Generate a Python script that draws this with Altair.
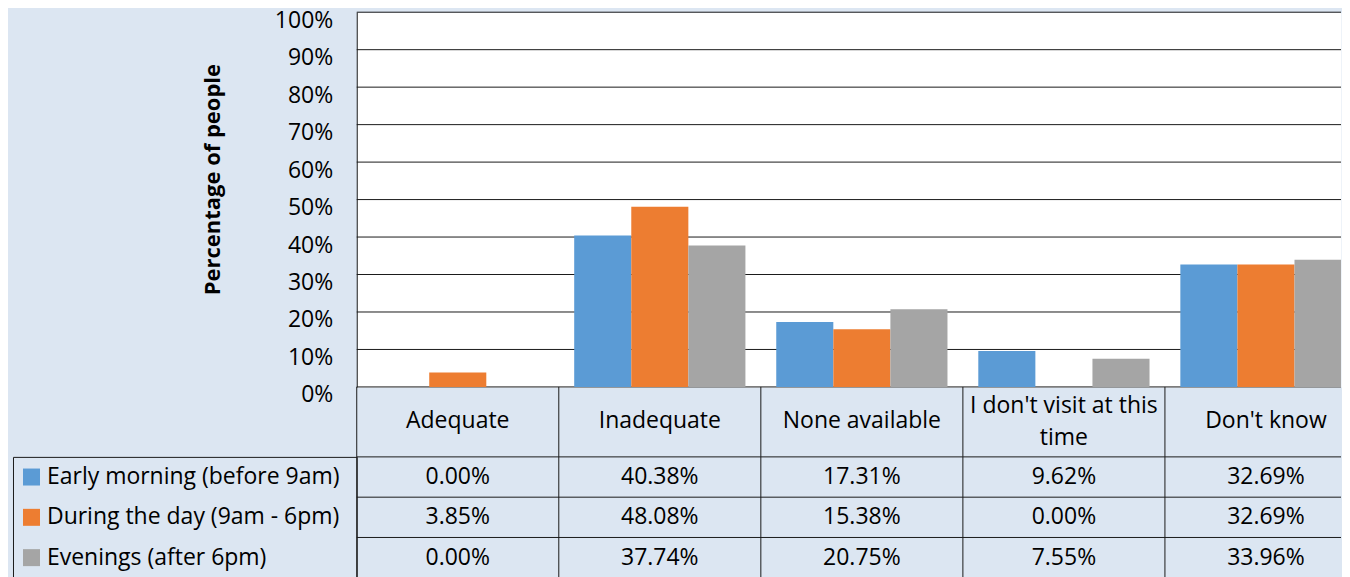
import altair as alt
import pandas as pd

categories = ["Adequate", "Inadequate", "None available", "I don't visit at this time", "Don't know"]
series_names = ["Early morning (before 9am)", "During the day (9am - 6pm)", "Evenings (after 6pm)"]
early_morning = [0.00, 40.38, 17.31, 9.62, 32.69]
during_day = [3.85, 48.08, 15.38, 0.00, 32.69]
evenings = [0.00, 37.74, 20.75, 7.55, 33.96]
series_colors = ["#5B9BD5", "#ED7D31", "#A5A5A5"]
y_ticks = [0, 10, 20, 30, 40, 50, 60, 70, 80, 90, 100]

rows = []
for s, vals in zip(series_names, [early_morning, during_day, evenings]):
    for c, v in zip(categories, vals):
        rows.append({"category": c, "series": s, "value": v})
df = pd.DataFrame(rows)
legend_df = pd.DataFrame({"series": series_names})
cat_df = pd.DataFrame({"category": categories})
tick_df = pd.DataFrame({"value": y_ticks})

FONT = "Open Sans"
LINE = "#1a1a1a"
FS = 23
BG = "#DCE6F2"
W = 985          # visible plot width (the page is cropped at the right)
FULL = 1011      # full width of the five category columns

color = alt.Color("series:N", sort=series_names,
                  scale=alt.Scale(domain=series_names, range=series_colors), legend=None)

cat_scale = alt.Scale(paddingInner=0, paddingOuter=0, range=[0, FULL])
row_scale = alt.Scale(paddingInner=0, paddingOuter=0)
val_scale = alt.Scale(domain=[0, 100], nice=False)

y_bar = alt.Y(
    "value:Q", title="Percentage of people", scale=val_scale,
    axis=alt.Axis(values=y_ticks, labelExpr="datum.value + '%'", grid=False,
                  domain=True, domainColor=LINE, ticks=False, labelPadding=24, labelFontSize=FS,
                  labelFont=FONT, labelColor="black", labelOffset=8,
                  titleFont=FONT, titleFontSize=22, titleFontWeight="bold", titleColor="black",
                  titleX=-144, titleY=167, titleAngle=270, titleAlign="center",
                  titleBaseline="middle"),
)

# ---- bar panel ----
gridlines = alt.Chart(tick_df).mark_rule(color=LINE, strokeWidth=1).encode(y=y_bar)
bars = alt.Chart(df).mark_bar(clip=True).encode(
    x=alt.X("category:N", sort=categories, title=None, scale=cat_scale, axis=None),
    xOffset=alt.XOffset("series:N", sort=series_names,
                        scale=alt.Scale(paddingInner=0, paddingOuter=0.27)),
    y=y_bar,
    color=color,
)
bar_panel = alt.layer(gridlines, bars).properties(
    width=W, height=375, view=alt.ViewBackground(fill="white", stroke="transparent"))

# ---- header row (category names) ----
wrap_expr = ("length(datum.category) > 16 ? [slice(datum.category, 0, lastindexof(datum.category, ' ')), "
             "slice(datum.category, lastindexof(datum.category, ' ') + 1)] : datum.category")
hx = alt.X("category:N", sort=categories, title=None, scale=cat_scale, axis=None)
head_base = alt.Chart(cat_df).transform_calculate(lines=wrap_expr)
head_single = head_base.transform_filter("length(datum.category) <= 16").mark_text(
    font=FONT, fontSize=FS, color="black", baseline="middle", dy=-1).encode(x=hx, text="lines:N")
head_multi = head_base.transform_filter("length(datum.category) > 16").mark_text(
    font=FONT, fontSize=FS, color="black", baseline="line-bottom", lineHeight=32).encode(
    x=hx, text="lines:N")
head_lines = alt.Chart(cat_df).mark_rule(color=LINE, strokeWidth=1).encode(
    x=alt.X("category:N", sort=categories, title=None, scale=cat_scale, axis=None,
            bandPosition=0))
header = alt.layer(head_lines, head_single, head_multi).properties(
    width=W, height=70, view=alt.ViewBackground(stroke="transparent"))

# ---- data table ----
values = alt.Chart(df).transform_calculate(
    label="format(datum.value, '.2f') + '%'"
).mark_text(font=FONT, fontSize=FS, color="black", baseline="middle").encode(
    x=alt.X("category:N", sort=categories, title=None, scale=cat_scale, axis=None),
    y=alt.Y("series:N", sort=series_names, title=None, scale=row_scale, axis=None),
    text="label:N",
)
row_lines = alt.Chart(legend_df).mark_rule(color=LINE, strokeWidth=1).encode(
    y=alt.Y("series:N", sort=series_names, title=None, scale=row_scale, axis=None,
            bandPosition=0))
col_lines = alt.Chart(cat_df).mark_rule(color=LINE, strokeWidth=1).encode(
    x=alt.X("category:N", sort=categories, title=None, scale=cat_scale, axis=None,
            bandPosition=0))
table = alt.layer(row_lines, col_lines, values).properties(
    width=W, height=121, view=alt.ViewBackground(stroke="transparent"))

# ---- legend column of the table ----
swatches = alt.Chart(legend_df).mark_square(size=289, opacity=1).encode(
    y=alt.Y("series:N", sort=series_names, title=None, scale=row_scale,
            axis=alt.Axis(labels=False, ticks=False, domain=False, grid=True, gridColor=LINE,
                          tickBand="extent")),
    x=alt.value(18.5), color=color)
names = alt.Chart(legend_df).mark_text(align="left", baseline="middle", font=FONT, fontSize=FS,
                                       color="black").encode(
    y=alt.Y("series:N", sort=series_names, title=None, scale=row_scale, axis=None),
    x=alt.value(34), text="series:N")
legend_col = alt.layer(swatches, names).properties(
    width=344, height=121, view=alt.ViewBackground(stroke=LINE))

empty = legend_df.iloc[0:0]
blank_top = alt.Chart(empty).mark_point(opacity=0).properties(
    width=344, height=375, view=alt.ViewBackground(stroke="transparent"))
blank_mid = alt.Chart(empty).mark_point(opacity=0).properties(
    width=344, height=70, view=alt.ViewBackground(stroke="transparent"))

chart = alt.concat(
    blank_top, bar_panel, blank_mid, header, legend_col, table, columns=2,
    spacing=0, bounds="flush",
).resolve_scale(x="independent", y="independent").properties(
    padding={"left": 4, "top": 0, "right": 0, "bottom": 0}
).configure(background=BG)

chart.save("out.html", embed_options={"renderer": "svg", "actions": False})
